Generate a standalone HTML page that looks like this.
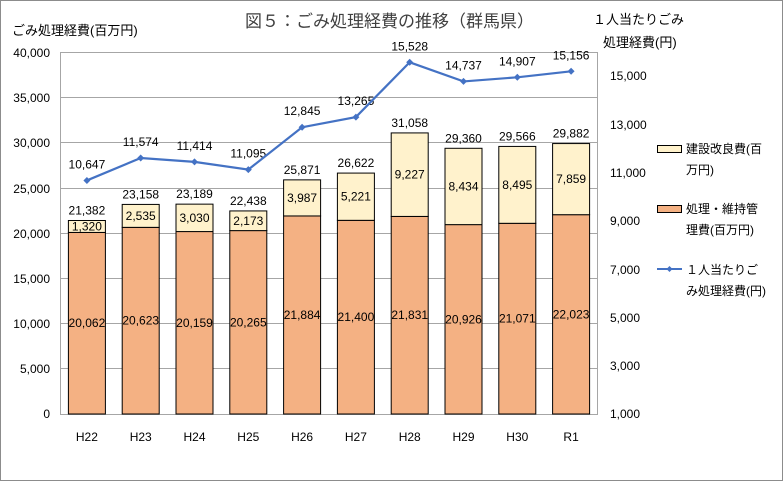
<!DOCTYPE html>
<html><head><meta charset="utf-8"><style>
html,body{margin:0;padding:0;background:#fff;}
svg{display:block;font-family:"Liberation Sans","Noto Sans CJK JP",sans-serif;}
</style></head><body>
<svg width="783" height="481" viewBox="0 0 783 481" xmlns="http://www.w3.org/2000/svg">
<rect x="0.5" y="0.5" width="782" height="480" fill="#fff" stroke="#8c8c8c"/>
<text x="245" y="27" font-size="17" fill="#404040">図５：ごみ処理経費の推移（群馬県）</text>
<text x="12" y="35" font-size="13" fill="#000">ごみ処理経費(百万円)</text>
<text x="593" y="24" font-size="13" fill="#000">１人当たりごみ</text>
<text x="603" y="47" font-size="13" fill="#000">処理経費(円)</text>
<g stroke="#a6a6a6" stroke-width="1">
<line x1="60" y1="52.5" x2="598" y2="52.5"/><line x1="60" y1="97.5" x2="598" y2="97.5"/>
<line x1="60" y1="142.5" x2="598" y2="142.5"/><line x1="60" y1="188.5" x2="598" y2="188.5"/>
<line x1="60" y1="233.5" x2="598" y2="233.5"/><line x1="60" y1="278.5" x2="598" y2="278.5"/>
<line x1="60" y1="323.5" x2="598" y2="323.5"/><line x1="60" y1="368.5" x2="598" y2="368.5"/>
<line x1="60" y1="414.5" x2="598" y2="414.5"/>
<line x1="60.5" y1="52" x2="60.5" y2="414"/><line x1="597.5" y1="52" x2="597.5" y2="414"/>
</g>
<g font-size="12" fill="#000" text-anchor="end">
<text x="50" y="57">40,000</text><text x="50" y="102">35,000</text><text x="50" y="147">30,000</text>
<text x="50" y="193">25,000</text><text x="50" y="238">20,000</text><text x="50" y="283">15,000</text>
<text x="50" y="328">10,000</text><text x="50" y="373">5,000</text><text x="50" y="418">0</text>
</g>
<g font-size="12" fill="#000" text-anchor="start">
<text x="610" y="80">15,000</text><text x="610" y="129">13,000</text><text x="610" y="177">11,000</text>
<text x="610" y="225">9,000</text><text x="610" y="274">7,000</text><text x="610" y="322">5,000</text>
<text x="610" y="370">3,000</text><text x="610" y="418">1,000</text>
</g>
<g id="bars" stroke="#000" stroke-width="1"></g>
<g id="labels" font-size="12" fill="#000" text-anchor="middle"></g>
<polyline id="line" fill="none" stroke="#4472c4" stroke-width="2.2"/>
<g id="marks" fill="#4472c4"></g>
<g font-size="12" fill="#000">
<rect x="657.5" y="145.5" width="24" height="7" fill="#fff2cc" stroke="#000"/>
<text x="686" y="153">建設改良費(百</text><text x="686" y="174">万円)</text>
<rect x="657.5" y="205.5" width="24" height="7" fill="#f4b183" stroke="#000"/>
<text x="686" y="213">処理・維持管</text><text x="686" y="234">理費(百万円)</text>
<line x1="657" y1="269" x2="682" y2="269" stroke="#4472c4" stroke-width="2"/>
<path d="M669.5 266 l3 3 -3 3 -3 -3z" fill="#4472c4"/>
<text x="686" y="274">１人当たりご</text><text x="686" y="295">み処理経費(円)</text>
</g>
<script>
var a=[20062,20623,20159,20265,21884,21400,21831,20926,21071,22023];
var b=[1320,2535,3030,2173,3987,5221,9227,8434,8495,7859];
var t=[21382,23158,23189,22438,25871,26622,31058,29360,29566,29882];
var p=[10647,11574,11414,11095,12845,13265,15528,14737,14907,15156];
var c=["H22","H23","H24","H25","H26","H27","H28","H29","H30","R1"];
function f(n){return n.toLocaleString("en-US");}
var ns="http://www.w3.org/2000/svg",bg=document.getElementById("bars"),lg=document.getElementById("labels"),mk=document.getElementById("marks");
function el(tg,at,par,txt){var e=document.createElementNS(ns,tg);for(var k in at)e.setAttribute(k,at[k]);if(txt)e.textContent=txt;par.appendChild(e);return e;}
var Y=function(v){return 414-v*0.00905;},R=function(v){return 414-(v-1000)*0.02421;};
var pts=[];var w=53.8;
for(var i=0;i<10;i++){var cx=60+w*(i+0.5);
var y0=Y(a[i]),y1=Y(a[i]+b[i]);
el("rect",{x:cx-18.5,y:y0,width:37,height:414-y0,fill:"#f4b183"},bg);
el("rect",{x:cx-18.5,y:y1,width:37,height:y0-y1,fill:"#fff2cc"},bg);
el("text",{x:cx,y:(y0+414)/2+4},lg,f(a[i]));
el("text",{x:cx,y:(y0+y1)/2+4},lg,f(b[i]));
el("text",{x:cx,y:y1-6},lg,f(t[i]));
var py=R(p[i]);pts.push(cx+","+py);
el("path",{d:"M"+cx+" "+(py-3.5)+" l3.5 3.5 -3.5 3.5 -3.5 -3.5z"},mk);
el("text",{x:cx,y:py-12},lg,f(p[i]));
el("text",{x:cx,y:441},lg,c[i]);
}
document.getElementById("line").setAttribute("points",pts.join(" "));
</script>
</svg>
</body></html>
